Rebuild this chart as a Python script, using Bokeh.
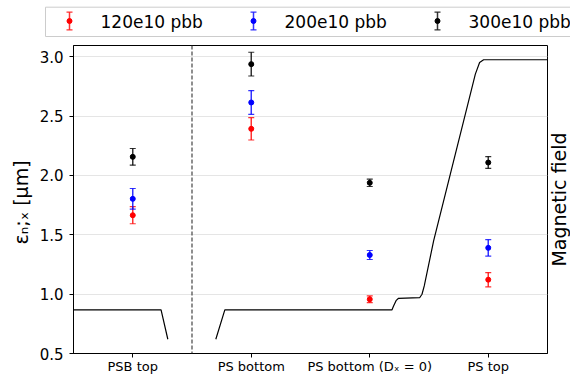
import math
from bokeh.plotting import figure
from bokeh.layouts import column, row
from bokeh.models import (ColumnDataSource, Whisker, TeeHead, Span,
                          Range1d, FixedTicker, PrintfTickFormatter)
from bokeh.core.properties import value
from bokeh.embed import file_html
from bokeh.resources import INLINE

# ---------------- data ----------------
categories = ["PSB top", "PS bottom", "PS bottom (Dₓ = 0)", "PS top"]
labels = ["120e10 pbb", "200e10 pbb", "300e10 pbb"]
colors = ["red", "blue", "black"]

emit_120 = [1.665, 2.393, 0.957, 1.122]
err_120 = [0.072, 0.094, 0.028, 0.060]
emit_200 = [1.803, 2.615, 1.330, 1.390]
err_200 = [0.087, 0.100, 0.038, 0.069]
emit_300 = [2.157, 2.938, 1.938, 2.109]
err_300 = [0.070, 0.100, 0.031, 0.050]

y_ticks = [0.5, 1.0, 1.5, 2.0, 2.5, 3.0]

# magnetic field (arbitrary units) along the cycle, PSB part and PS part
field_psb_x = [-0.5, 0.239, 0.296]
field_psb_y = [0.867, 0.867, 0.620]
field_ps_x = [0.701, 0.777, 2.187, 2.201, 2.224, 2.243, 2.421, 2.441, 2.460,
              2.539, 2.680, 2.821, 2.891, 2.927, 2.961, 3.5]
field_ps_y = [0.620, 0.867, 0.867, 0.900, 0.948, 0.965, 0.970, 0.999, 1.069,
              1.449, 2.011, 2.573, 2.854, 2.952, 2.975, 2.975]

FONT = "DejaVu Sans"
W, LEG_H, MAIN_H, RIGHT_W = 570, 44, 332, 22


def strip(width, height):
    f = figure(width=width, height=height, x_range=Range1d(0, width),
               y_range=Range1d(0, height), x_axis_type=None, y_axis_type=None,
               output_backend="svg", toolbar_location=None, min_border=0)
    f.frame_align = False
    f.outline_line_color = None
    f.grid.grid_line_color = None
    return f


# ---------------- legend strip ----------------
lg = strip(W, LEG_H)
lg.quad(left=[45], right=[W + 20], top=[37.3], bottom=[8], fill_color="white",
        line_color="#cccccc", line_width=1)
step = 184
mx = [69 + i * step for i in range(3)]
tx = [100 + i * step for i in range(3)]
yc = 23.5
half = 8.8
lg.segment(x0=mx, y0=[yc - half] * 3, x1=mx, y1=[yc + half] * 3, line_color=colors,
           line_width=1.5, line_alpha=0.8)
lg.segment(x0=[m - 3 for m in mx], y0=[yc - half] * 3, x1=[m + 3 for m in mx],
           y1=[yc - half] * 3, line_color=colors, line_width=1.2, line_alpha=0.8)
lg.segment(x0=[m - 3 for m in mx], y0=[yc + half] * 3, x1=[m + 3 for m in mx],
           y1=[yc + half] * 3, line_color=colors, line_width=1.2, line_alpha=0.8)
lg.scatter(x=mx, y=[yc] * 3, size=5, marker="circle", fill_color=colors, line_color=colors)
lg.text(x=tx, y=[22.4] * 3, text=labels, text_font=value(FONT), text_font_size="17px",
        text_color="black", text_baseline="middle", text_align="left")

# ---------------- right strip (twin-axis label) ----------------
rs = strip(RIGHT_W, MAIN_H)
rs.text(x=[10.5], y=[177], text=["Magnetic field"], angle=math.pi / 2, text_align="center",
        text_baseline="middle", text_font=value(FONT), text_font_size="19px",
        text_color="black")

# ---------------- main plot ----------------
p = figure(width=W - RIGHT_W, height=MAIN_H, x_range=Range1d(-0.5, 3.5),
           y_range=Range1d(0.5, 3.095), output_backend="svg", toolbar_location=None,
           min_border_left=73, min_border_right=1, min_border_top=1, min_border_bottom=23)
p.frame_align = False
p.background_fill_color = "white"
p.border_fill_color = "white"
p.outline_line_color = "black"
p.outline_line_width = 1
p.outline_line_alpha = 1

p.extra_y_ranges = {"field": Range1d(0.5, 3.095)}

# magnetic field curve
p.line(field_psb_x, field_psb_y, line_color="black", line_width=1.2, y_range_name="field")
p.line(field_ps_x, field_ps_y, line_color="black", line_width=1.2, y_range_name="field")

# separator
p.add_layout(Span(location=0.5, dimension="height", line_color="#444444",
                  line_dash="4 2", line_width=1.2))

xs = list(range(len(categories)))
for col, em, er in zip(colors, [emit_120, emit_200, emit_300], [err_120, err_200, err_300]):
    src = ColumnDataSource(dict(x=xs, y=em,
                                lower=[a - b for a, b in zip(em, er)],
                                upper=[a + b for a, b in zip(em, er)]))
    w = Whisker(base="x", lower="lower", upper="upper", source=src, dimension="height",
                line_color=col, line_width=1.5, line_alpha=0.8, level="glyph")
    w.upper_head = TeeHead(size=6, line_color=col, line_width=1.2, line_alpha=0.8)
    w.lower_head = TeeHead(size=6, line_color=col, line_width=1.2, line_alpha=0.8)
    p.add_layout(w)
    p.scatter("x", "y", source=src, marker="circle", size=5, fill_color=col, line_color=col)

# axes
p.xaxis.ticker = FixedTicker(ticks=xs)
p.xaxis.major_label_overrides = {i: c for i, c in enumerate(categories)}
p.yaxis.ticker = FixedTicker(ticks=y_ticks)
p.yaxis.formatter = PrintfTickFormatter(format="%.1f")
for ax in (p.xaxis[0], p.yaxis[0]):
    ax.axis_line_color = "black"
    ax.major_tick_line_color = "black"
    ax.major_tick_in = 0
    ax.major_tick_out = 4
    ax.minor_tick_line_color = None
    ax.major_label_text_font = FONT
    ax.major_label_text_color = "black"
p.xaxis.major_label_text_font_size = "13px"
p.xaxis.major_label_standoff = 1
p.yaxis.major_label_text_font_size = "15px"
p.yaxis.major_label_standoff = 6
p.yaxis.axis_label = "εₙ;ₓ  [μm]"
p.yaxis.axis_label_text_font = FONT
p.yaxis.axis_label_text_font_size = "19px"
p.yaxis.axis_label_text_font_style = "normal"
p.yaxis.axis_label_text_color = "black"
p.yaxis.axis_label_standoff = 5

p.xgrid.grid_line_color = None
p.ygrid.grid_line_color = "#e5e5e5"
p.ygrid.grid_line_width = 1

layout = column(lg, row(p, rs, spacing=0), spacing=0)
open("out.html", "w").write(file_html(layout, INLINE))
